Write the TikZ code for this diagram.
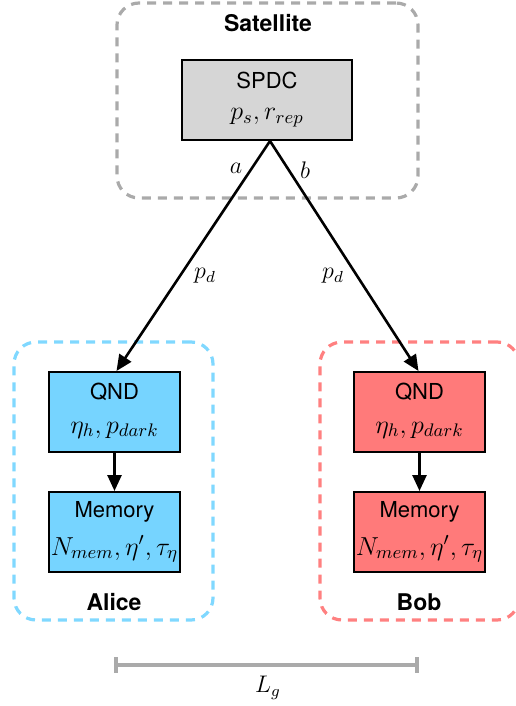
\RequirePackage{fix-cm}
\documentclass[tikz,border=0pt]{standalone}
\usepackage[no-math]{fontspec}
\setsansfont{TeX Gyre Heros}
\usetikzlibrary{arrows.meta}
\definecolor{alicefill}{RGB}{118,212,255}
\definecolor{alicedash}{RGB}{128,216,255}
\definecolor{bobfill}{RGB}{255,122,122}
\definecolor{bobdash}{RGB}{255,128,128}
\definecolor{satgray}{RGB}{170,170,170}
\definecolor{spdcfill}{RGB}{214,214,214}
\tikzset{
  group/.style={draw, line width=1.6pt, rounded corners=11pt, dash pattern=on 4.5pt off 3.5pt},
  block/.style={draw=black, line width=1pt, minimum width=65.5pt, minimum height=40pt, inner sep=0pt},
  txt/.style={font=\sffamily\fontsize{11}{13}\selectfont, inner sep=0pt},
  btxt/.style={font=\sffamily\bfseries\fontsize{11.5}{13}\selectfont, inner sep=0pt},
  mth/.style={font=\fontsize{13}{15}\selectfont, inner sep=0pt},
  conn/.style={line width=1.3pt, -{Triangle[length=8pt,width=7pt]}},
  lbl/.style={font=\fontsize{12}{14}\selectfont, inner sep=0pt},
}
\begin{document}
\begin{tikzpicture}[x=0.5pt,y=-0.5pt]
\useasboundingbox (0,0) rectangle (515,706);
% groups
\node[group, draw=satgray, minimum width=150.5pt, minimum height=97.5pt] (sat) at (267.5,100.5) {};
\node[group, draw=alicedash, minimum width=99.5pt, minimum height=139pt] (alice) at (113.5,481) {};
\node[group, draw=bobdash, minimum width=99.5pt, minimum height=139pt] (bob) at (419.5,481) {};
\node[btxt] (satl) at (268,23) {Satellite};
\node[btxt] (alicel) at (114,602) {Alice};
\node[btxt] (bobl) at (419,602) {Bob};
% blocks
\node[block, fill=spdcfill, minimum width=85pt] (spdc) at (267,100) {};
\node[txt] (spdct) at (267,80) {SPDC};
\node[mth] (spdcm) at (267,118) {$p_s, r_{rep}$};
\node[block, fill=alicefill] (aqnd) at (114.5,412) {};
\node[txt] (aqndt) at (114.5,392) {QND};
\node[mth] (aqndm) at (114.5,430) {$\eta_h, p_{dark}$};
\node[block, fill=alicefill] (amem) at (114.5,532) {};
\node[txt] (amemt) at (114.5,512) {Memory};
\node[mth] (amemm) at (114.5,549) {$N_{mem}, \eta', \tau_\eta$};
\node[block, fill=bobfill] (bqnd) at (419.5,412) {};
\node[txt] (bqndt) at (419.5,392) {QND};
\node[mth] (bqndm) at (419.5,430) {$\eta_h, p_{dark}$};
\node[block, fill=bobfill] (bmem) at (419.5,532) {};
\node[txt] (bmemt) at (419.5,512) {Memory};
\node[mth] (bmemm) at (419.5,549) {$N_{mem}, \eta', \tau_\eta$};
% connectors
\coordinate (apex) at ([xshift=1.5pt]spdc.south);
\draw[conn] (apex) -- ([xshift=1pt]aqnd.north);
\draw[conn] (apex) -- ([xshift=-0.5pt]bqnd.north);
\draw[conn] (aqnd) -- (amem);
\draw[conn] (bqnd) -- (bmem);
\node[lbl] (la) at (236,168) {$a$};
\node[lbl] (lb) at (305,170) {$b$};
\node[lbl] (lpa) at (205,276) {$p_d$};
\node[lbl] (lpb) at (333,276) {$p_d$};
% distance bar
\coordinate (g1) at (116,665);
\coordinate (g2) at (417,665);
\draw[satgray, line width=1.6pt] (g1) -- (g2);
\draw[satgray, line width=1.6pt] ([yshift=4pt]g1) -- ([yshift=-4pt]g1);
\draw[satgray, line width=1.6pt] ([yshift=4pt]g2) -- ([yshift=-4pt]g2);
\node[lbl] (lg) at (268,688) {$L_g$};
\end{tikzpicture}
\end{document}
